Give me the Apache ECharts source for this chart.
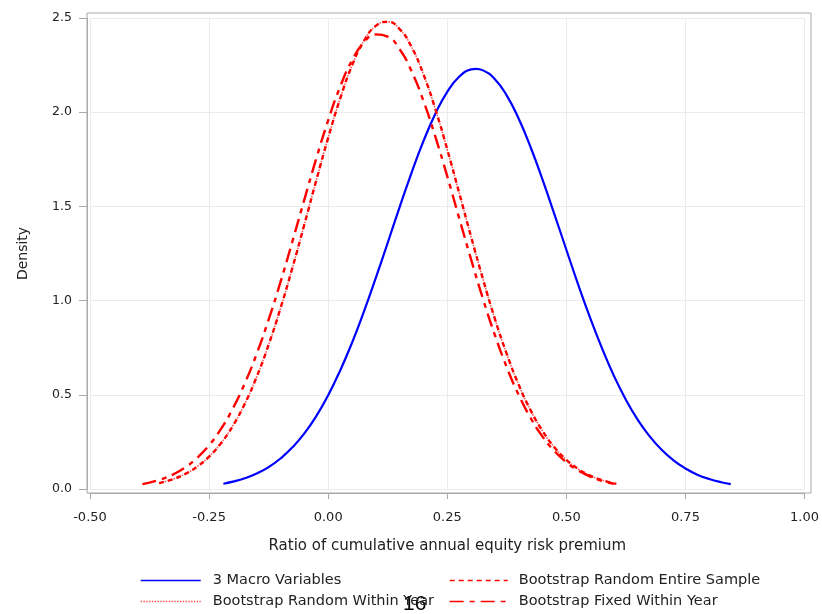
<!DOCTYPE html>
<html>
<head>
<meta charset="utf-8">
<script src="https://cdn.jsdelivr.net/npm/echarts@6/dist/echarts.min.js"></script>
<style>html,body{margin:0;padding:0;background:#fff}#c{width:822px;height:614px}</style>
</head>
<body>
<div id="c"></div>
<script>
// axis tick ranges
const xTicks = [-0.50, -0.25, 0.00, 0.25, 0.50, 0.75, 1.00];
const yTicks = [0.0, 0.5, 1.0, 1.5, 2.0, 2.5];

// 3 Macro Variables
const macroX = [-0.22,-0.20,-0.175,-0.15,-0.125,-0.10,-0.075,-0.05,-0.025,0.00,0.025,0.05,0.075,0.10,0.125,0.15,0.175,0.20,0.225,0.25,0.275,0.30,0.31,0.325,0.35,0.375,0.40,0.425,0.45,0.475,0.50,0.525,0.55,0.575,0.60,0.625,0.65,0.675,0.70,0.725,0.75,0.775,0.80,0.825,0.845];
const macroY = [0.028,0.039,0.057,0.082,0.116,0.162,0.221,0.295,0.387,0.498,0.628,0.776,0.942,1.121,1.307,1.496,1.678,1.846,1.992,2.108,2.188,2.227,2.230,2.222,2.175,2.088,1.965,1.814,1.642,1.458,1.270,1.084,0.908,0.746,0.600,0.474,0.367,0.279,0.208,0.152,0.109,0.076,0.053,0.036,0.026];

// Bootstrap Random Entire Sample
const entireX = [-0.355,-0.325,-0.30,-0.275,-0.25,-0.225,-0.20,-0.175,-0.15,-0.125,-0.10,-0.075,-0.05,-0.025,0.00,0.025,0.05,0.075,0.10,0.125,0.15,0.175,0.20,0.225,0.25,0.275,0.30,0.325,0.35,0.375,0.40,0.425,0.45,0.475,0.50,0.525,0.55,0.575,0.605];
const entireY = [0.031,0.053,0.080,0.119,0.172,0.243,0.336,0.453,0.596,0.766,0.960,1.175,1.404,1.638,1.864,2.071,2.247,2.378,2.458,2.480,2.441,2.346,2.201,2.016,1.802,1.572,1.339,1.114,0.903,0.716,0.553,0.418,0.308,0.221,0.155,0.106,0.071,0.047,0.027];

// Bootstrap Random Within Year (lies under the entire-sample curve)
const withinX = [-0.355,-0.325,-0.30,-0.275,-0.25,-0.225,-0.20,-0.175,-0.15,-0.125,-0.10,-0.075,-0.05,-0.025,0.00,0.025,0.05,0.075,0.10,0.125,0.15,0.175,0.20,0.225,0.25,0.275,0.30,0.325,0.35,0.375,0.40,0.425,0.45,0.475,0.50,0.525,0.55,0.575,0.605];
const withinY = [0.031,0.053,0.080,0.119,0.172,0.243,0.336,0.453,0.596,0.766,0.960,1.175,1.404,1.638,1.864,2.071,2.247,2.378,2.458,2.480,2.441,2.346,2.201,2.016,1.802,1.572,1.339,1.114,0.903,0.716,0.553,0.418,0.308,0.221,0.155,0.106,0.071,0.047,0.027];

// Bootstrap Fixed Within Year
const fixedX = [-0.39,-0.375,-0.35,-0.325,-0.30,-0.275,-0.25,-0.225,-0.20,-0.175,-0.15,-0.125,-0.10,-0.075,-0.05,-0.025,0.00,0.025,0.05,0.075,0.10,0.125,0.15,0.175,0.20,0.225,0.25,0.275,0.30,0.325,0.35,0.375,0.40,0.425,0.45,0.475,0.50,0.525,0.55,0.575,0.60];
const fixedY = [0.026,0.034,0.052,0.078,0.115,0.166,0.232,0.319,0.428,0.561,0.718,0.899,1.099,1.315,1.536,1.754,1.957,2.134,2.275,2.370,2.413,2.401,2.334,2.218,2.060,1.870,1.659,1.438,1.219,1.009,0.817,0.646,0.499,0.377,0.278,0.201,0.142,0.098,0.066,0.043,0.028];

const names = ['3 Macro Variables','Bootstrap Random Entire Sample','Bootstrap Random Within Year','Bootstrap Fixed Within Year'];

const pairs = (xs, ys) => xs.map((x, i) => [x, ys[i]]);

const chart = echarts.init(document.getElementById('c'), null, {renderer:'canvas'});
const axisGray = '#a9a9a9';
const gridGray = '#ebebeb';
const txt = '#222';
const FONT = 'DejaVu Sans';

const legendBase = {
  orient: 'horizontal', padding: 0,
  itemHeight: 14, itemGap: 0,
  itemStyle: {opacity: 0},
  lineStyle: {width: 1.4},
  textStyle: {fontSize: 14.5, color: txt, fontFamily: FONT}
};
const mkLegend = (name, left, top, w, pad) => Object.assign({}, legendBase, {
  data: [name], left: left, top: top, itemWidth: w,
  textStyle: Object.assign({}, legendBase.textStyle, {padding: [0, 0, 0, pad]})
});

const option = {
  backgroundColor: '#ffffff',
  animation: false,
  textStyle: {fontFamily: FONT},
  grid: [
    {left: 90, right: 16, top: 18, bottom: 125},
    {left: 87, right: 11, top: 13, bottom: 121, show: true, borderColor: axisGray, borderWidth: 1, backgroundColor: 'transparent'}
  ],
  xAxis: [
    {
      type: 'value', gridIndex: 0,
      min: xTicks[0], max: xTicks[xTicks.length-1], interval: 0.25,
      offset: 4,
      axisLine: {show: true, onZero: false, lineStyle: {color: axisGray, width: 1}},
      axisTick: {show: true, length: 6, lineStyle: {color: axisGray}},
      axisLabel: {margin: 18, fontSize: 13, color: txt, fontFamily: FONT, formatter: v => v.toFixed(2)},
      splitLine: {show: true, lineStyle: {color: gridGray, width: 1}},
      name: 'Ratio of cumulative annual equity risk premium',
      nameLocation: 'middle', nameGap: 46,
      nameTextStyle: {fontSize: 15, color: txt, fontFamily: FONT}
    },
    {type: 'value', gridIndex: 1, show: false, min: 0, max: 1}
  ],
  yAxis: [
    {
      type: 'value', gridIndex: 0,
      min: yTicks[0], max: yTicks[yTicks.length-1], interval: 0.5,
      offset: 3,
      axisLine: {show: true, onZero: false, lineStyle: {color: axisGray, width: 1}},
      axisTick: {show: true, length: 8, lineStyle: {color: axisGray}},
      axisLabel: {margin: 15, fontSize: 12.5, color: txt, fontFamily: FONT, formatter: v => v.toFixed(1)},
      splitLine: {show: true, lineStyle: {color: gridGray, width: 1}},
      name: 'Density',
      nameLocation: 'middle', nameGap: 57, nameRotate: 90,
      nameTextStyle: {fontSize: 14, color: txt, fontFamily: FONT}
    },
    {type: 'value', gridIndex: 1, show: false, min: 0, max: 1}
  ],
  legend: [
    mkLegend(names[0], 140, 573, 60, 7),
    mkLegend(names[2], 140, 594, 60, 7),
    mkLegend(names[1], 449, 573, 58, 6),
    mkLegend(names[3], 449, 594, 58, 6)
  ],
  graphic: [
    {type: 'text', left: 403, top: 594, style: {text: '16', fontSize: 21, fontFamily: 'Liberation Sans', fill: '#000'}}
  ],
  series: [
    {
      name: names[2], type: 'line', xAxisIndex: 0, yAxisIndex: 0,
      data: pairs(withinX, withinY), smooth: true, symbol: 'none', showSymbol: false,
      lineStyle: {color: '#ff5050', width: 1.5, type: 'dotted'}, itemStyle: {color: '#ff5050'}
    },
    {
      name: names[0], type: 'line', xAxisIndex: 0, yAxisIndex: 0,
      data: pairs(macroX, macroY), smooth: true, symbol: 'none', showSymbol: false,
      lineStyle: {color: '#0000ff', width: 2.2, type: 'solid'}, itemStyle: {color: '#0000ff'}
    },
    {
      name: names[1], type: 'line', xAxisIndex: 0, yAxisIndex: 0,
      data: pairs(entireX, entireY), smooth: true, symbol: 'none', showSymbol: false,
      lineStyle: {color: '#ff0000', width: 2.4, type: [5, 4]}, itemStyle: {color: '#ff0000'}
    },
    {
      name: names[3], type: 'line', xAxisIndex: 0, yAxisIndex: 0,
      data: pairs(fixedX, fixedY), smooth: true, symbol: 'none', showSymbol: false,
      lineStyle: {color: '#ff0000', width: 2.4, type: [14, 6, 5, 6]}, itemStyle: {color: '#ff0000'}
    }
  ]
};
chart.setOption(option);
</script>
</body>
</html>
